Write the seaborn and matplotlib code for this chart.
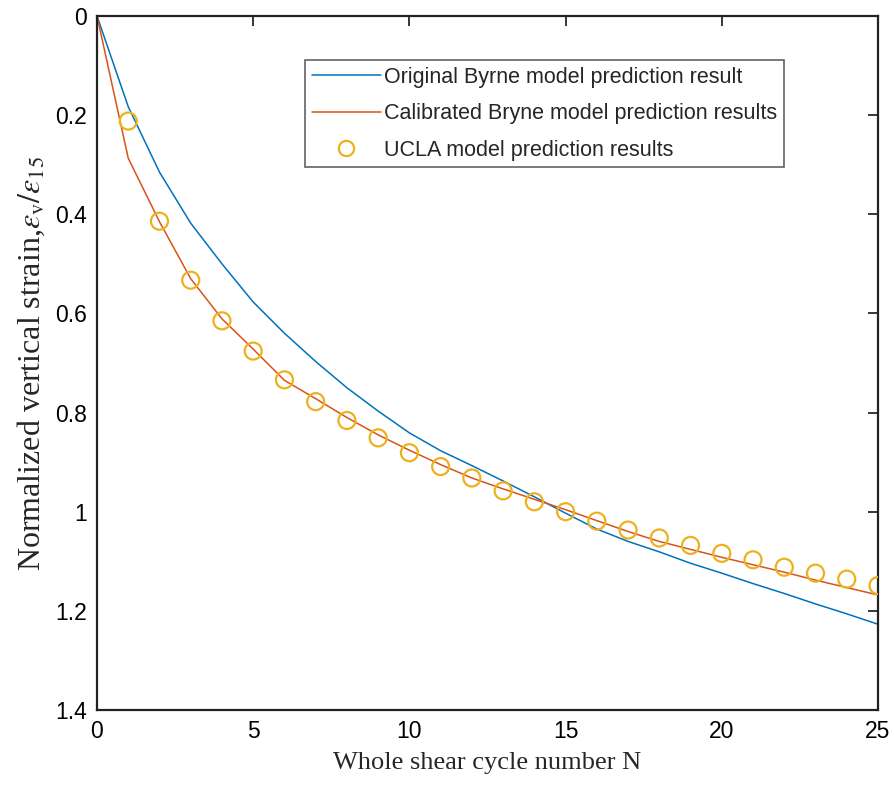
import matplotlib
matplotlib.use("Agg")
import matplotlib.pyplot as plt
from matplotlib.lines import Line2D
import seaborn as sns
import pandas as pd

# ---- data ----
N_line = list(range(0, 26))
original_byrne = [0.0, 0.183, 0.315, 0.418, 0.500, 0.577, 0.640, 0.697, 0.750, 0.797,
                  0.841, 0.877, 0.907, 0.938, 0.970, 1.003, 1.035, 1.060, 1.081, 1.104,
                  1.124, 1.145, 1.165, 1.186, 1.206, 1.227]
calibrated_byrne = [0.0, 0.287, 0.415, 0.530, 0.611, 0.672, 0.735, 0.772, 0.810, 0.845,
                    0.876, 0.905, 0.932, 0.954, 0.975, 0.996, 1.018, 1.040, 1.060, 1.076,
                    1.092, 1.107, 1.122, 1.138, 1.153, 1.168]
N_ucla = list(range(1, 26))
ucla = [0.212, 0.414, 0.533, 0.615, 0.676, 0.734, 0.778, 0.816, 0.851, 0.881,
        0.909, 0.932, 0.958, 0.980, 1.000, 1.019, 1.037, 1.053, 1.068, 1.084,
        1.097, 1.112, 1.124, 1.136, 1.149]
x_ticks = [0, 5, 10, 15, 20, 25]
y_ticks = [0, 0.2, 0.4, 0.6, 0.8, 1.0, 1.2, 1.4]
y_tick_labels = ["0", "0.2", "0.4", "0.6", "0.8", "1", "1.2", "1.4"]
labels = ["Original Byrne model prediction result",
          "Calibrated Bryne model prediction results",
          "UCLA model prediction results"]
x_label = "Whole shear cycle number N"
y_label = r"Normalized vertical strain,$\varepsilon_{\rm v}/\varepsilon_{15}$"

sns.set_theme(style="white")
plt.rcParams['font.family'] = ['Liberation Sans', 'DejaVu Sans']
plt.rcParams['mathtext.fontset'] = 'stix'

df_lines = pd.DataFrame({
    "N": N_line * 2,
    "y": original_byrne + calibrated_byrne,
    "series": [labels[0]] * len(N_line) + [labels[1]] * len(N_line),
})
df_ucla = pd.DataFrame({"N": N_ucla, "y": ucla, "series": labels[2]})

fig = plt.figure(figsize=(8.94, 7.99), dpi=100)
ax = fig.add_axes([0.1085, 0.1114, 0.8736, 0.8686])

sns.lineplot(data=df_lines, x="N", y="y", hue="series",
             palette=["#0072BD", "#D95319"], linewidth=1.1, ax=ax, sort=False,
             legend=False)
sns.scatterplot(data=df_ucla, x="N", y="y", marker="o", s=150,
                facecolors="none", edgecolor="#EDB120", linewidth=1.6,
                ax=ax, legend=False, zorder=3)

handles = [Line2D([], [], color="#0072BD", lw=1.1),
           Line2D([], [], color="#D95319", lw=1.1),
           Line2D([], [], color="#EDB120", lw=0, marker="o", markersize=11,
                  markerfacecolor="none", markeredgewidth=1.6)]
leg = ax.legend(handles, labels, loc="upper left", bbox_to_anchor=(0.266, 0.937),
                fontsize=15.5, frameon=True, fancybox=False, edgecolor="#3a3a3a",
                handlelength=3.2, handletextpad=0.15, labelspacing=0.72,
                borderpad=0.32, borderaxespad=0)
leg.get_frame().set_linewidth(1.2)

ax.set_xlim(0, 25)
ax.set_ylim(1.4, 0)
ax.set_xticks(x_ticks)
ax.set_yticks(y_ticks)
ax.set_yticklabels(y_tick_labels)
ax.tick_params(direction="in", length=7, width=1.1, top=True, right=True,
               labelsize=16.5, colors="black", pad=7)
for sp in ax.spines.values():
    sp.set_color("#222222")
    sp.set_linewidth(1.6)
ax.set_xlabel(x_label, fontsize=19, family=["Liberation Serif", "DejaVu Serif"], labelpad=7)
ax.set_ylabel(y_label, fontsize=23, family=["Liberation Serif", "DejaVu Serif"], labelpad=6)

fig.savefig("out.png", dpi=100)
